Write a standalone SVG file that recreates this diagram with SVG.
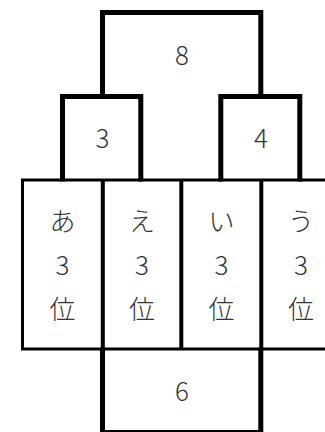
<svg xmlns="http://www.w3.org/2000/svg" width="325" height="432" viewBox="0 0 325 432">
<style>
.thick{fill:none;stroke:#000;stroke-width:5;stroke-linecap:square;stroke-linejoin:miter}
.thin{fill:none;stroke:#000;stroke-width:3;stroke-linecap:square}
.col{fill:none;stroke:#000;stroke-width:4}
text{font-family:"Noto Sans CJK JP","Noto Sans",sans-serif;font-size:26px;font-weight:300;fill:#333;text-anchor:middle;dominant-baseline:central}
</style>
<rect width="325" height="432" fill="#fff"/>
<g id="table">
<path class="thin" d="M345 180 H22.5 V349 H345"/>
<path class="col" d="M102.8 180 V349 M181.3 180 V349 M261.3 180 V349"/>
</g>
<g id="connectors">
<path class="thick" d="M102.5 96 V12.5 H260.8 V96"/>
</g>
<g id="node-8"><text x="182" y="53">8</text></g>
<g id="node-3"><path class="thick" d="M62.5 179 V96.5 H140.8 V179"/><text x="102.5" y="136">3</text></g>
<g id="node-4"><path class="thick" d="M220.8 179 V96.5 H299.8 V179"/><text x="261" y="136">4</text></g>
<g id="col-a"><text x="62.5" y="219">あ</text><text x="62.5" y="263">3</text><text x="62.5" y="307">位</text></g>
<g id="col-e"><text x="142" y="219">え</text><text x="142" y="263">3</text><text x="142" y="307">位</text></g>
<g id="col-i"><text x="221.5" y="219">い</text><text x="221.5" y="263">3</text><text x="221.5" y="307">位</text></g>
<g id="col-u"><text x="301" y="219">う</text><text x="301" y="263">3</text><text x="301" y="307">位</text></g>
<g id="node-6"><path class="thick" d="M102.5 350 V431 M260.8 350 V431"/><path d="M102.5 431 H260.8" stroke="#000" stroke-width="2"/><text x="182" y="389">6</text></g>
</svg>
